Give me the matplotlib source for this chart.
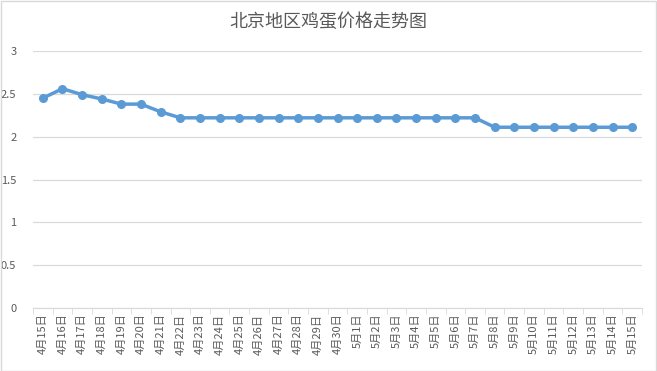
import matplotlib
matplotlib.use("Agg")
import matplotlib.pyplot as plt
from matplotlib.patches import Rectangle

plt.rcParams['font.family'] = ['Noto Sans CJK SC', 'DejaVu Sans']

title = "北京地区鸡蛋价格走势图"
dates = ([f"4月{d}日" for d in range(15, 31)] + [f"5月{d}日" for d in range(1, 16)])
prices = [2.45, 2.56, 2.49, 2.44, 2.38, 2.38, 2.29] + [2.22] * 16 + [2.11] * 8
yticks = [0, 0.5, 1, 1.5, 2, 2.5, 3]
ytick_labels = ["0", "0.5", "1", "1.5", "2", "2.5", "3"]

fig = plt.figure(figsize=(6.57, 3.71), dpi=100)
ax = fig.add_axes([33/657, 1-308/371, (642-33)/657, (308-51)/371])

x = list(range(len(dates)))
ax.plot(x, prices, color='#5B9BD5', lw=2.5, marker='o', ms=5.5, zorder=3)

ax.set_xlim(-0.5, len(dates) - 0.5)
ax.set_ylim(0, 3)
ax.set_yticks(yticks)
ax.set_yticklabels(ytick_labels, fontsize=8, color='#595959')
ax.yaxis.grid(True, color='#D9D9D9', lw=0.9)
ax.set_axisbelow(True)
ax.tick_params(axis='y', length=0, pad=12)

ax.set_xticks(x)
ax.set_xticklabels(dates, rotation=90, fontsize=8, color='#595959', va='top')
ax.set_xticks([i - 0.5 for i in range(len(dates) + 1)], minor=True)
ax.tick_params(axis='x', which='major', length=0, pad=4)
ax.tick_params(axis='x', which='minor', length=4, color='#D9D9D9', direction='out')

for s in ['top', 'right', 'left']:
    ax.spines[s].set_visible(False)
ax.spines['bottom'].set_color('#D9D9D9')

fig.text(0.5, 1 - 22/371, title, ha='center', va='center', fontsize=13, color='#595959')

fig.patches.append(Rectangle((0.001, 0.001), 0.997, 0.997, transform=fig.transFigure,
                             fill=False, edgecolor='#D9D9D9', lw=1))

fig.savefig("out.png", dpi=100)
